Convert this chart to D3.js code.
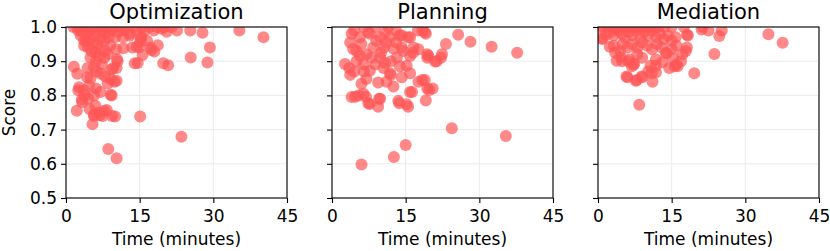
<!DOCTYPE html>
<html>
<head>
<meta charset="utf-8">
<script src="https://cdn.jsdelivr.net/npm/d3@7"></script>
<style>
  body { margin: 0; background: #fff; }
  text { font-family: "DejaVu Sans", sans-serif; }
</style>
</head>
<body>
<script>
// panel titles
var tasks = ["Optimization", "Planning", "Mediation"];

var xTicks = [0, 15, 30, 45];
var yTicks = [0.5, 0.6, 0.7, 0.8, 0.9, 1.0];

// [time in minutes, score]
var optimization = [
  [1.5,1.0],[2.2,1.0],[3.0,1.0],[3.8,1.0],[4.5,1.0],[5.2,1.0],[6.0,1.0],[6.8,1.0],[7.5,1.0],[8.3,1.0],
  [9.2,1.0],[10.0,1.0],[11.2,1.0],[12.5,1.0],[13.8,1.0],[15.5,1.0],[17.0,1.0],[18.5,1.0],[20.0,1.0],[21.5,1.0],
  [2.5,0.99],[3.5,0.985],[4.2,0.98],[5.0,0.99],[5.8,0.975],[6.5,0.985],[7.2,0.99],[8.0,0.98],[9.0,0.99],[10.5,0.985],
  [11.8,0.99],[13.0,0.98],[14.5,0.99],[16.0,0.99],[17.9,0.99],[19.5,0.995],[20.5,0.986],[22.6,0.99],[25.3,0.99],[27.8,0.983],
  [35.3,0.99],[40.2,0.97],
  [3.0,0.975],[3.7,0.96],[4.1,0.96],[4.8,0.965],[5.5,0.955],[6.4,0.95],[7.0,0.965],[7.8,0.96],[8.6,0.97],[10.0,0.97],
  [11.6,0.97],[13.0,0.975],[15.3,0.966],[15.3,0.973],[16.5,0.96],
  [3.7,0.945],[4.5,0.94],[5.2,0.93],[6.0,0.926],[6.8,0.935],[8.0,0.93],[9.0,0.945],[10.2,0.935],[11.7,0.938],[13.5,0.94],
  [14.4,0.942],[14.9,0.94],[15.1,0.957],[17.2,0.94],[17.4,0.933],[18.0,0.928],[18.7,0.947],[25.4,0.911],[29.3,0.94],[28.8,0.896],
  [19.8,0.894],[20.8,0.888],[14.0,0.894],[14.6,0.895],[15.6,0.918],
  [5.0,0.911],[6.1,0.90],[7.3,0.89],[7.8,0.91],[5.7,0.882],[4.4,0.88],[1.6,0.884],[9.6,0.88],[10.3,0.88],[10.5,0.90],
  [10.4,0.906],[9.2,0.875],[6.6,0.915],[8.5,0.92],
  [2.3,0.863],[4.3,0.853],[5.0,0.85],[7.1,0.863],[9.1,0.848],[9.9,0.84],[10.3,0.843],[6.2,0.87],[8.0,0.855],[2.65,0.824],
  [2.5,0.815],[3.7,0.814],[4.7,0.828],[6.1,0.82],[5.7,0.80],[9.1,0.802],[9.3,0.80],[3.2,0.787],[3.8,0.80],[4.5,0.79],
  [3.3,0.78],[7.0,0.81],[8.5,0.835],
  [2.2,0.755],[5.4,0.716],[5.7,0.74],[5.7,0.745],[6.6,0.75],[6.9,0.742],[7.5,0.74],[7.8,0.755],[8.3,0.757],[9.4,0.74],
  [10.0,0.738],[15.1,0.738],[8.6,0.643],[10.3,0.616],[23.5,0.679],[6.0,0.77],[4.8,0.76]
];

var planning = [
  [4.0,0.98],[4.5,0.99],[5.7,0.97],[6.5,1.0],[7.4,0.985],[7.7,0.98],[8.8,1.0],[9.8,0.97],[10.8,0.985],[11.5,1.0],
  [11.8,0.97],[13.0,0.99],[13.8,0.975],[14.2,0.975],[15.5,0.97],[15.9,0.97],[17.5,0.99],[18.4,0.99],[18.9,0.985],[19.1,0.98],
  [25.7,0.977],[28.2,0.957],[32.5,0.942],[37.7,0.925],[23.2,0.95],[22.4,0.92],[21.0,0.899],[19.4,0.92],[19.4,0.91],[17.6,0.935],
  [16.6,0.94],[21.3,0.9],[22.2,0.91],[19.6,0.916],
  [3.7,0.955],[4.3,0.936],[5.7,0.916],[7.0,0.92],[5.0,0.9],[6.4,0.89],[7.7,0.872],[8.8,0.89],[8.4,0.94],[10.6,0.94],
  [9.8,0.91],[10.8,0.895],[12.5,0.937],[13.2,0.91],[14.2,0.94],[15.9,0.915],[15.2,0.887],[13.8,0.885],[15.9,0.865],[14.2,0.853],
  [11.8,0.865],[9.4,0.838],[11.1,0.84],[12.5,0.826],[6.0,0.834],[7.0,0.848],[15.9,0.81],[18.4,0.845],[19.4,0.82],[17.6,0.84],
  [18.9,0.845],[19.8,0.816],[20.5,0.82],[16.3,0.81],[19.1,0.785],
  [2.65,0.892],[3.7,0.86],[4.0,0.795],[4.7,0.796],[5.4,0.8],[6.4,0.805],[6.9,0.796],[7.4,0.777],[7.7,0.775],[9.4,0.767],
  [9.6,0.79],[9.8,0.79],[13.5,0.784],[13.7,0.777],[15.2,0.774],[15.5,0.767],
  [5.0,0.93],[6.0,0.95],[6.5,0.87],[8.0,0.91],[9.0,0.96],[10.0,0.925],[11.0,0.955],[12.0,0.9],[13.0,0.955],[14.5,0.93],
  [16.5,0.925],[4.5,0.87],[3.5,0.88],[12.0,0.86],[10.5,0.88],
  [6.0,0.598],[12.6,0.62],[15.0,0.655],[24.4,0.704],[35.4,0.681],[15.1,0.484]
];

var mediation = [
  [0.5,1.0],[1.2,1.0],[2.0,1.0],[2.8,1.0],[3.6,1.0],[4.4,1.0],[5.2,1.0],[6.0,1.0],[6.8,1.0],[7.6,1.0],
  [8.4,1.0],[9.2,1.0],[10.0,1.0],[10.8,1.0],[11.6,1.0],[12.4,1.0],[13.5,1.0],[15.0,1.0],[17.5,1.0],[21.3,1.0],
  [0.75,0.967],[0.95,0.965],[1.7,0.977],[2.5,0.985],[3.2,0.975],[4.0,0.99],[4.8,0.98],[5.5,0.97],[6.3,0.985],[7.0,0.975],
  [7.8,0.99],[8.6,0.97],[9.4,0.985],[10.2,0.975],[11.0,0.99],[11.8,0.97],[12.6,0.98],[13.4,0.965],[14.2,0.975],[15.0,0.96],
  [15.8,0.97],[18.1,0.977],[18.3,0.975],[21.1,0.993],[22.5,0.99],[24.7,0.974],[25.2,0.99],[34.7,0.979],[37.6,0.954],
  [2.4,0.942],[3.2,0.945],[3.5,0.925],[4.5,0.93],[5.0,0.95],[6.0,0.94],[7.0,0.95],[8.0,0.94],[9.0,0.955],[10.0,0.945],
  [11.0,0.935],[12.0,0.95],[13.0,0.94],[14.0,0.923],[15.0,0.935],[16.0,0.945],[17.2,0.92],[18.1,0.94],[17.9,0.93],[23.7,0.921],
  [4.7,0.911],[3.8,0.901],[4.9,0.9],[6.2,0.9],[6.4,0.905],[7.2,0.89],[6.9,0.885],[7.4,0.892],[10.7,0.887],[11.8,0.887],
  [13.1,0.897],[14.5,0.88],[15.6,0.885],[16.2,0.885],[16.0,0.89],[15.2,0.91],[13.8,0.925],[16.9,0.9],[11.8,0.905],
  [10.2,0.87],[10.9,0.865],[11.8,0.867],[19.6,0.865],[9.0,0.91],[8.0,0.92],
  [5.8,0.855],[6.0,0.853],[7.7,0.843],[7.9,0.845],[8.9,0.855],[9.0,0.853],[11.1,0.84],[8.4,0.773]
];

var panelData = [optimization, planning, mediation];

var width = 830, height = 251;
var plotTop = 27, plotH = 171, plotW = 221;
var panelLeft = [66, 332, 598];

var svg = d3.select("body").append("svg")
    .attr("width", width)
    .attr("height", height);

var x = d3.scaleLinear().domain([0, 45]).range([0, plotW]);
var y = d3.scaleLinear().domain([0.5, 1.0]).range([plotH, 0]);

tasks.forEach(function (name, i) {
    var g = svg.append("g")
        .attr("transform", "translate(" + panelLeft[i] + "," + plotTop + ")");

    // grid
    g.selectAll(".gx").data(xTicks).enter().append("line")
        .attr("x1", function (d) { return x(d); })
        .attr("x2", function (d) { return x(d); })
        .attr("y1", 0).attr("y2", plotH)
        .style("stroke", "#ebebeb").style("stroke-width", 1);
    g.selectAll(".gy").data(yTicks).enter().append("line")
        .attr("y1", function (d) { return y(d); })
        .attr("y2", function (d) { return y(d); })
        .attr("x1", 0).attr("x2", plotW)
        .style("stroke", "#ebebeb").style("stroke-width", 1);

    svg.append("clipPath").attr("id", "clip" + i)
        .append("rect").attr("width", plotW).attr("height", plotH);

    g.append("g").attr("clip-path", "url(#clip" + i + ")")
        .selectAll("circle")
        .data(panelData[i])
        .enter()
        .append("circle")
        .attr("cx", function (d) { return x(d[0]); })
        .attr("cy", function (d) { return y(d[1]); })
        .attr("r", 6)
        .style("fill", "#ff5555")
        .style("fill-opacity", 0.7);

    // frame
    g.append("rect")
        .attr("width", plotW).attr("height", plotH)
        .style("fill", "none").style("stroke", "#000").style("stroke-width", 1.1);

    var xa = g.append("g")
        .attr("transform", "translate(0," + plotH + ")")
        .call(d3.axisBottom(x).tickValues(xTicks).tickSize(5).tickPadding(7));
    var ya = g.append("g")
        .call(d3.axisLeft(y).tickValues(yTicks).tickSize(5).tickPadding(4)
            .tickFormat(i === 0 ? d3.format(".1f") : function () { return ""; }));
    [xa, ya].forEach(function (a) {
        a.select(".domain").remove();
        a.selectAll("line").style("stroke", "#000").style("stroke-width", 1.1);
        a.selectAll("text").style("font-size", "17px").style("fill", "#000")
            .style("font-family", "DejaVu Sans");
    });

    g.append("text")
        .attr("x", plotW / 2).attr("y", -8)
        .attr("text-anchor", "middle")
        .style("font-size", "21px")
        .text(name);

    g.append("text")
        .attr("x", plotW / 2).attr("y", plotH + 47)
        .attr("text-anchor", "middle")
        .style("font-size", "17px")
        .text("Time (minutes)");
});

svg.append("text")
    .attr("transform", "translate(15," + (plotTop + plotH / 2) + ") rotate(-90)")
    .attr("text-anchor", "middle")
    .style("font-size", "17px")
    .text("Score");
</script>
</body>
</html>
